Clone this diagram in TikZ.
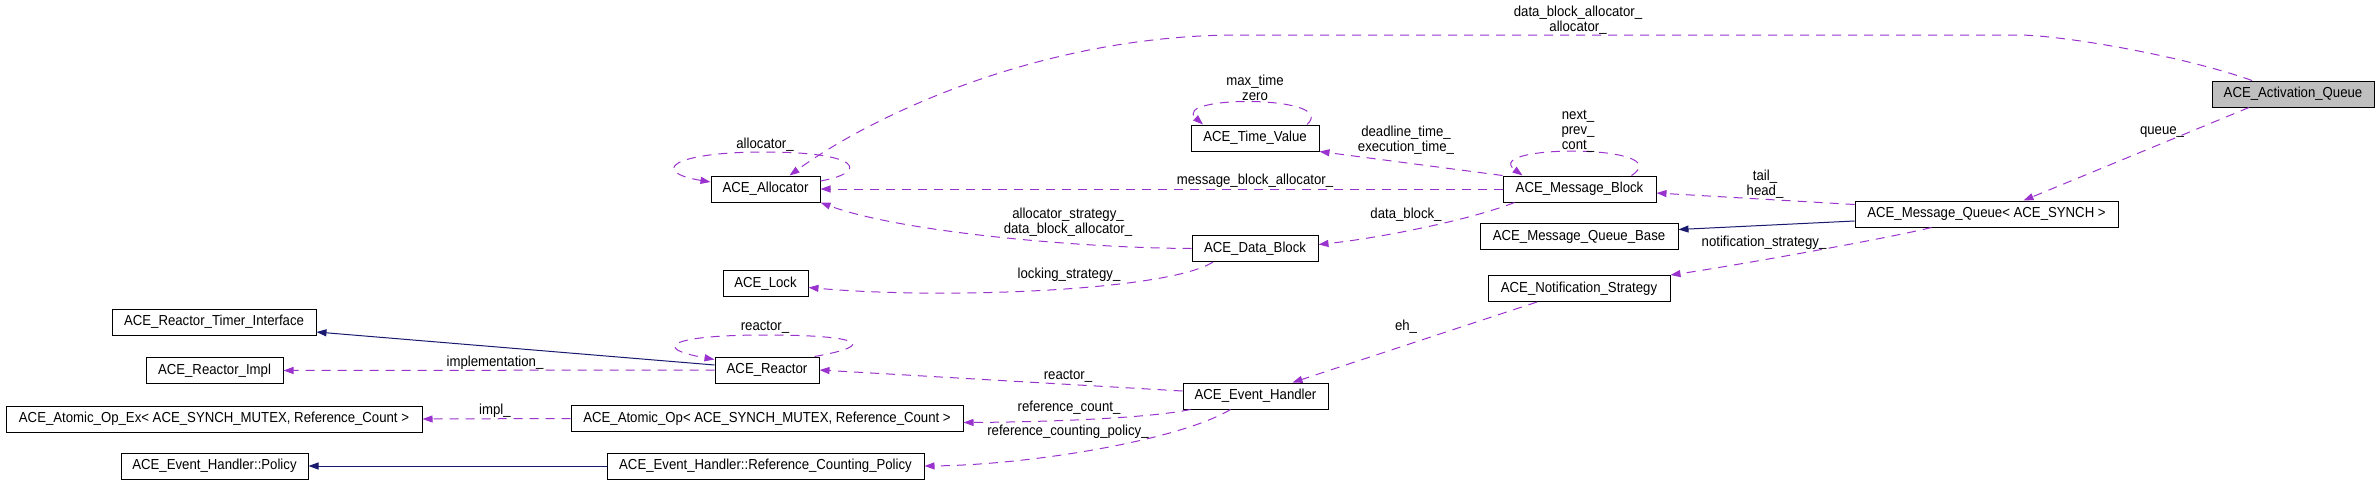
\documentclass[tikz,border=0pt]{standalone}
\usepackage{fontspec}
\setmainfont{Liberation Sans}[FakeStretch=0.91]
\usetikzlibrary{arrows.meta}
\definecolor{refcol}{HTML}{9A32CD}
\definecolor{inhcol}{HTML}{191970}
\begin{document}
\begin{tikzpicture}[x=1pt,y=-1pt,>={Triangle[length=10pt,width=7pt]},
  cls/.style={draw,line width=1pt,inner sep=0pt,minimum height=26pt,font=\fontsize{14.5}{15}\selectfont},
  lbl/.style={inner sep=0pt,align=center,font=\fontsize{14.5}{15}\selectfont},
  ref/.style={->,refcol,line width=1pt,dash pattern=on 9pt off 7pt},
  inh/.style={->,inhcol,line width=1pt}]

\useasboundingbox (0,0) rectangle (2379,493);

\node [cls,fill=black!25,minimum width=162pt] at (2293,94) (aq) {ACE\_Activation\_Queue};
\node [cls,minimum width=109pt] at (765.5,189) (alloc) {ACE\_Allocator};
\node [cls,minimum width=128pt] at (1255,138) (tv) {ACE\_Time\_Value};
\node [cls,minimum width=153pt] at (1579.5,189) (mb) {ACE\_Message\_Block};
\node [cls,minimum width=263pt] at (1986.5,214) (mq) {ACE\_Message\_Queue< ACE\_SYNCH >};
\node [cls,minimum width=198pt] at (1579,236.5) (mqb) {ACE\_Message\_Queue\_Base};
\node [cls,minimum width=182pt] at (1579,288.5) (ns) {ACE\_Notification\_Strategy};
\node [cls,minimum width=126pt] at (1255,248.5) (db) {ACE\_Data\_Block};
\node [cls,minimum width=85pt] at (765.5,283.5) (lock) {ACE\_Lock};
\node [cls,minimum width=204pt] at (214,322) (rti) {ACE\_Reactor\_Timer\_Interface};
\node [cls,minimum width=137pt] at (214.5,370.5) (rimpl) {ACE\_Reactor\_Impl};
\node [cls,minimum width=104pt] at (767,370) (reactor) {ACE\_Reactor};
\node [cls,minimum width=145pt] at (1255.5,396) (eh) {ACE\_Event\_Handler};
\node [cls,minimum width=416pt] at (214,419) (aopx) {ACE\_Atomic\_Op\_Ex< ACE\_SYNCH\_MUTEX, Reference\_Count >};
\node [cls,minimum width=392pt] at (767,418.5) (aop) {ACE\_Atomic\_Op< ACE\_SYNCH\_MUTEX, Reference\_Count >};
\node [cls,minimum width=187pt] at (214.5,466) (pol) {ACE\_Event\_Handler::Policy};
\node [cls,minimum width=317pt] at (765.5,466) (rcp) {ACE\_Event\_Handler::Reference\_Counting\_Policy};

% members
\draw [ref] ([xshift=-41pt]aq.north) .. controls (2180,55) and (2060,35) .. (2018,35) -- (1238,35)
  .. controls (1050,35) and (880,110) .. ([xshift=24pt]alloc.north);
\draw [ref] ([yshift=8pt]alloc.east) .. controls (870,172) and (860,152) .. (765,152)
  .. controls (670,152) and (650,172) .. ([yshift=7pt]alloc.west);
\draw [ref] (mb.west) -- (alloc.east);
\draw [ref] (db.west) .. controls (1080,248) and (900,232) .. (alloc.south east);
\draw [ref] ([xshift=-44pt]aq.south) -- ([xshift=37pt]mq.north);
\draw [ref] ([yshift=-4pt]mq.north west) -- ([yshift=-4pt]mb.east);
\draw [ref] ([xshift=-55pt]mq.south) .. controls (1880,240) and (1720,268) .. (ns.north east);
\draw [ref] ([xshift=52pt]mb.north) .. controls (1680,144) and (1480,144) .. ([xshift=-57pt]mb.north);
\draw [ref] ([xshift=52pt]tv.north) .. controls (1340,95) and (1170,95) .. ([xshift=-52pt]tv.north);
\draw [ref] (mb.north west) -- (tv.south east);
\draw [ref] ([xshift=-65pt]mb.south) .. controls (1470,220) and (1380,238) .. ([yshift=4pt]db.east);
\draw [ref] ([xshift=-42pt]db.south) .. controls (1170,290) and (950,300) .. ([yshift=-4pt]lock.east);
\draw [ref] ([xshift=-5pt]reactor.north east) .. controls (880,345) and (860,335) .. (765,335)
  .. controls (670,335) and (650,348) .. ([yshift=-3pt]reactor.north west);
\draw [ref] (reactor.west) -- (rimpl.east);
\draw [ref] ([yshift=5pt]eh.west) -- (reactor.east);
\draw [ref] ([xshift=-65pt]eh.south) .. controls (1150,418) and (1050,422) .. ([yshift=-4pt]aop.east);
\draw [ref] ([xshift=-25pt]eh.south) .. controls (1180,440) and (1030,465) .. (rcp.east);
\draw [ref] (aop.west) -- (aopx.east);
\draw [ref] ([xshift=-42pt]ns.south) -- ([xshift=37pt]eh.north);

% bases
\draw [inh] ([yshift=-7pt]mq.west) -- ([yshift=7pt]mqb.east);
\draw [inh] ([yshift=5pt]reactor.west) -- ([yshift=-10pt]rti.east);
\draw [inh] (rcp.west) -- (pol.east);

\node [lbl] at (1578,20.5) (l1) {data\_block\_allocator\_\\allocator\_};
\node [lbl] at (1255,87.5) (l2) {max\_time\\zero};
\node [lbl] at (765,145) (l3) {allocator\_};
\node [lbl] at (1578,131.5) (l4) {next\_\\prev\_\\cont\_};
\node [lbl] at (1406,140.5) (l5) {deadline\_time\_\\execution\_time\_};
\node [lbl] at (2162,132) (l6) {queue\_};
\node [lbl] at (1255,181) (l7) {message\_block\_allocator\_};
\node [lbl] at (1765,184.5) (l8) {tail\_\\head\_};
\node [lbl] at (1406,215) (l9) {data\_block\_};
\node [lbl] at (1068,222) (l10) {allocator\_strategy\_\\data\_block\_allocator\_};
\node [lbl] at (1764,243) (l11) {notification\_strategy\_};
\node [lbl] at (1069,275) (l12) {locking\_strategy\_};
\node [lbl] at (765,327) (l13) {reactor\_};
\node [lbl] at (1406,327) (l14) {eh\_};
\node [lbl] at (495,363) (l15) {implementation\_};
\node [lbl] at (1068,376) (l16) {reactor\_};
\node [lbl] at (1069,408) (l17) {reference\_count\_};
\node [lbl] at (495,411) (l18) {impl\_};
\node [lbl] at (1068,432) (l19) {reference\_counting\_policy\_};

\end{tikzpicture}
\end{document}
